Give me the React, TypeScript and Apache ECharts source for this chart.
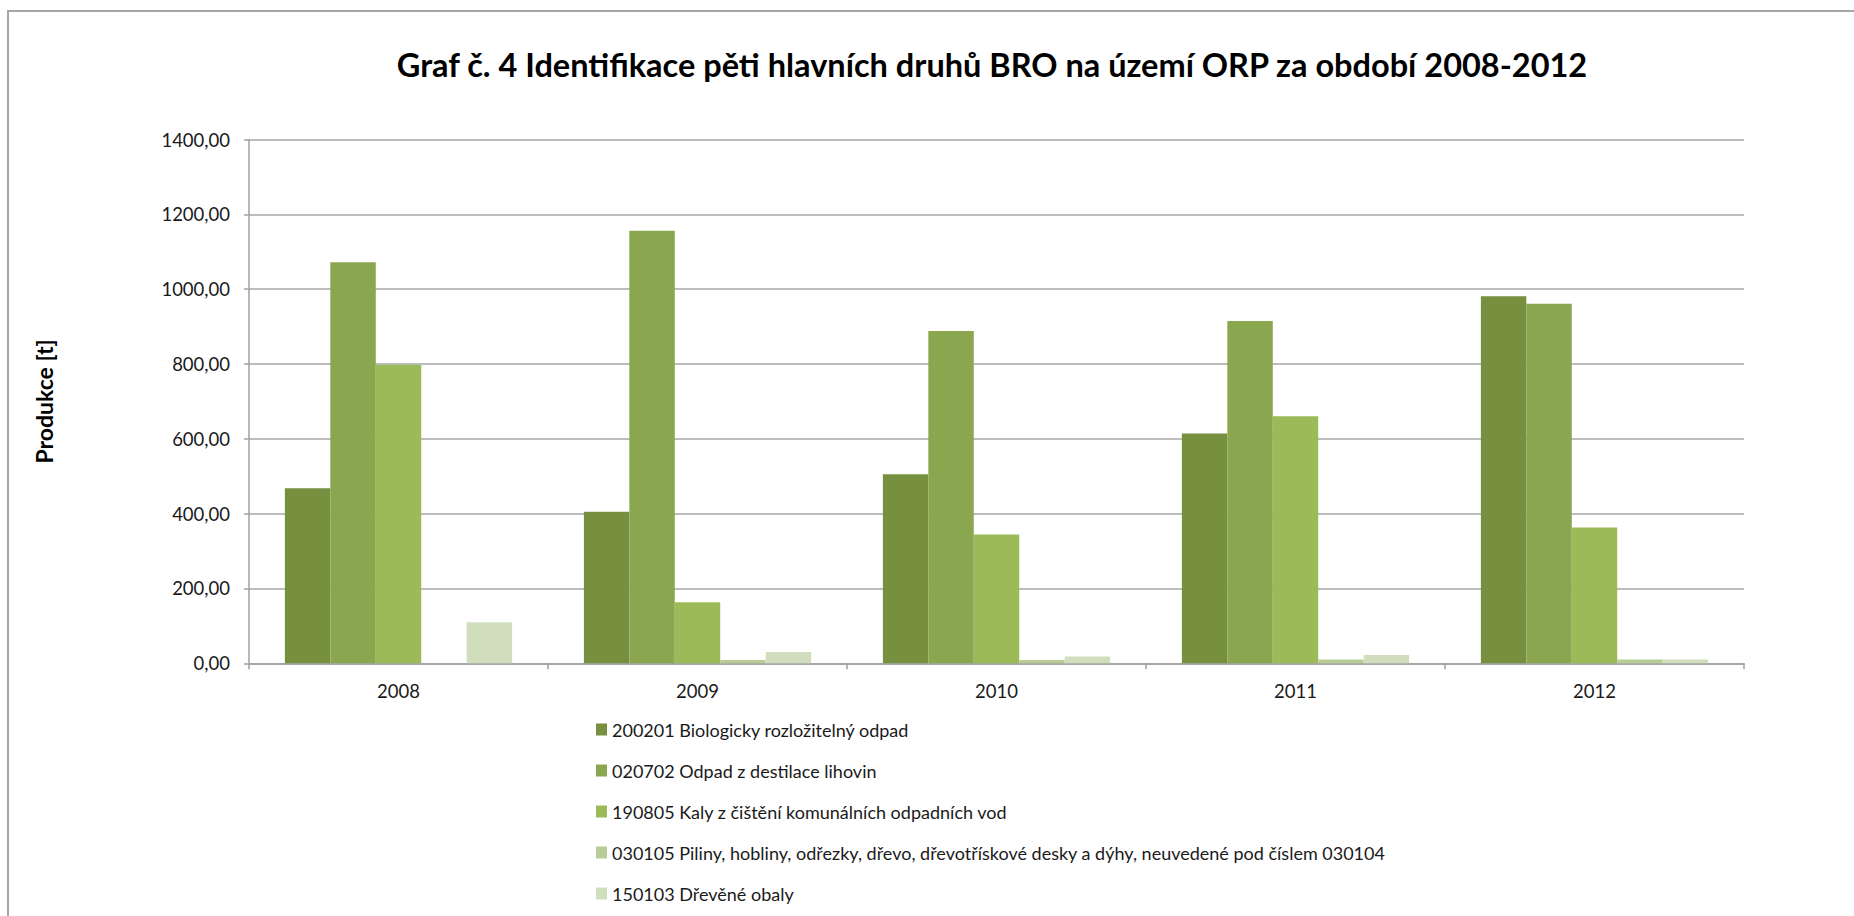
import React, { useEffect, useRef } from "react";
import * as echarts from "echarts";

const years = ["2008", "2009", "2010", "2011", "2012"];
const seriesNames = [
  "200201 Biologicky rozložitelný odpad",
  "020702 Odpad z destilace lihovin",
  "190805 Kaly z čištění komunálních odpadních vod",
  "030105 Piliny, hobliny, odřezky, dřevo, dřevotřískové desky a dýhy, neuvedené pod číslem 030104",
  "150103 Dřevěné obaly",
];
const bio = [468, 405, 505, 614, 981];
const destilace = [1072, 1156, 888, 915, 961];
const kaly = [798, 163, 344, 660, 363];
const piliny = [0, 9, 9, 10, 10];
const obaly = [110, 30, 18, 22, 10];
const colors = ["#76903F", "#8AA64E", "#9CBB58", "#B8CC95", "#D1DEBD"];
const titleText = "Graf č. 4 Identifikace pěti hlavních druhů BRO na území ORP za období 2008-2012";
const yName = "Produkce [t]";

export default function App() {
  const ref = useRef<HTMLDivElement>(null);
  useEffect(() => {
    const chart = echarts.init(ref.current!, undefined, { renderer: "svg" });
    const data = [bio, destilace, kaly, piliny, obaly];
    chart.setOption({
      animation: false,
      backgroundColor: "#ffffff",
      textStyle: { fontFamily: "Lato" },
      graphic: [
        {
          type: "rect",
          shape: { x: 8, y: 11, width: 2000, height: 1000 },
          style: { fill: "none", stroke: "#A6A6A6", lineWidth: 2 },
          silent: true,
        },
        {
          type: "text",
          x: 992,
          y: 48,
          style: {
            text: titleText,
            fontFamily: "Lato",
            fontWeight: "bold",
            fontSize: 32.5,
            fill: "#000000",
            align: "center",
            verticalAlign: "top",
          },
        },
      ],
      legend: {
        orient: "vertical",
        left: 591,
        top: 715.5,
        itemWidth: 11,
        itemHeight: 12,
        itemGap: 23,
        itemTextGap: 5,
        icon: "rect",
        textStyle: { fontFamily: "Lato", fontSize: 18, color: "#1a1a1a" },
        data: seriesNames,
      },
      grid: { left: 249, right: 110, top: 139.5, bottom: 252.7, containLabel: false },
      xAxis: {
        type: "category",
        data: years,
        axisLine: { lineStyle: { color: "#A0A0A0", width: 1.5 } },
        axisTick: { show: true, length: 6, lineStyle: { color: "#A0A0A0", width: 1.5 } },
        axisLabel: { margin: 18, fontSize: 18.5, color: "#1a1a1a", fontFamily: "Lato" },
      },
      yAxis: {
        type: "value",
        min: 0,
        max: 1400,
        interval: 200,
        name: yName,
        nameLocation: "middle",
        nameGap: 194,
        nameTextStyle: { fontFamily: "Lato", fontWeight: "bold", fontSize: 23, color: "#000" },
        axisLine: { show: true, lineStyle: { color: "#A0A0A0", width: 1.5 } },
        axisTick: { show: true, length: 5, lineStyle: { color: "#A0A0A0", width: 1.5 } },
        splitLine: { lineStyle: { color: "#A6A6A6", width: 1.5 } },
        axisLabel: {
          margin: 19,
          fontSize: 18.5,
          color: "#1a1a1a",
          fontFamily: "Lato",
          formatter: (v: number) => v.toFixed(2).replace(".", ","),
        },
      },
      series: seriesNames.map((name, i) => ({
        name,
        type: "bar",
        data: data[i],
        barGap: "0%",
        barCategoryGap: "24%",
        itemStyle: { color: colors[i] },
      })),
    });
    return () => chart.dispose();
  }, []);
  return (
    <div
      ref={ref}
      style={{ position: "absolute", left: 0, top: 0, width: 1854, height: 916 }}
    />
  );
}
